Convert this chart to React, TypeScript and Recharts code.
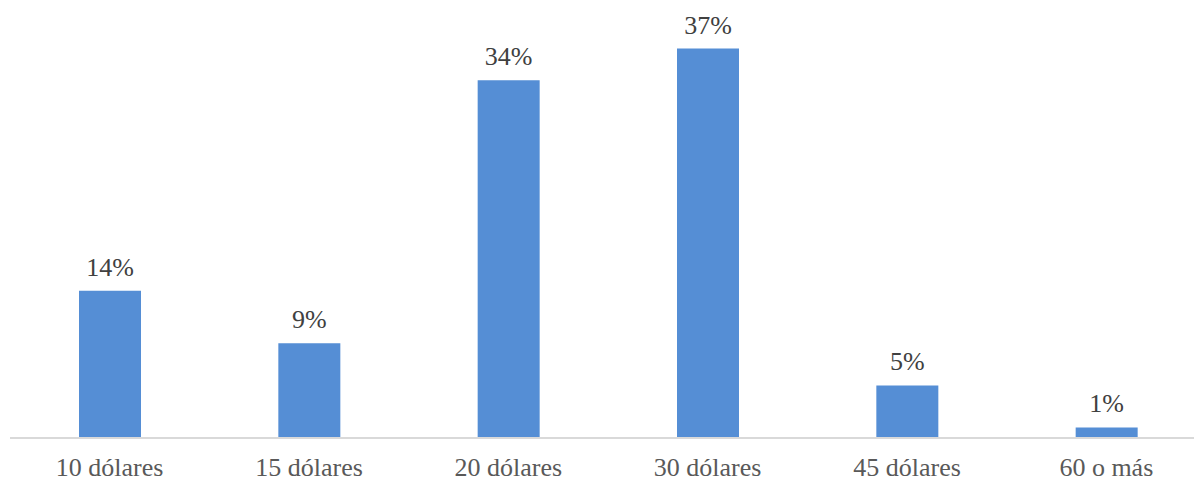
import { BarChart, Bar, XAxis, YAxis, LabelList } from "recharts";

const categories = ["10 dólares", "15 dólares", "20 dólares", "30 dólares", "45 dólares", "60 o más"];
const shares = [14, 9, 34, 37, 5, 1];

const data = categories.map((name, i) => ({ name, value: shares[i] }));

const FONT = "'Liberation Serif', 'Times New Roman', serif";

const Tick = ({ x, y, payload }: { x?: number; y?: number; payload?: { value: string } }) => (
  <text x={x} y={(y ?? 0) + 38} textAnchor="middle" fill="#595959" fontSize={26} fontFamily={FONT}>
    {payload?.value}
  </text>
);

export default function App() {
  return (
    <div style={{ position: "absolute", top: 0, left: 0, width: 1194, height: 482, overflow: "hidden", background: "#fff" }}>
      <BarChart width={1220} height={482} data={data} margin={{ top: 17, right: 14, left: 10, bottom: 0 }}>
        <XAxis
          dataKey="name"
          height={44}
          axisLine={{ stroke: "#d9d9d9", strokeWidth: 2 }}
          tickLine={false}
          tickSize={0}
          tickMargin={0}
          tick={<Tick />}
          interval={0}
        />
        <YAxis hide domain={[0, 40]} />
        <Bar dataKey="value" fill="#558ed5" barSize={62} isAnimationActive={false}>
          <LabelList
            dataKey="value"
            position="top"
            offset={15}
            formatter={(v: number) => `${v}%`}
            fill="#404040"
            fontSize={26}
            fontFamily={FONT}
          />
        </Bar>
      </BarChart>
    </div>
  );
}
